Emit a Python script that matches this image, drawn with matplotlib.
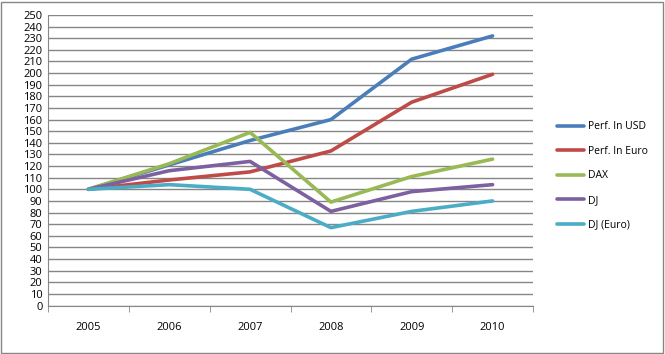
import matplotlib
matplotlib.use('Agg')
import matplotlib.pyplot as plt
import numpy as np
from matplotlib.patches import Rectangle

# data
years = ['2005', '2006', '2007', '2008', '2009', '2010']
perf_usd = [100, 121, 142, 160, 212, 232]
perf_euro = [100, 108, 115, 133, 175, 199]
dax = [100, 122, 149, 89, 111, 126]
dj = [100, 116, 124, 81, 98, 104]
dj_euro = [100, 104, 100, 67, 81, 90]

series = [
    ('Perf. In USD', perf_usd, '#4A7EBB'),
    ('Perf. In Euro', perf_euro, '#BE4B48'),
    ('DAX', dax, '#98B954'),
    ('DJ', dj, '#7D60A0'),
    ('DJ (Euro)', dj_euro, '#4BACC6'),
]

plt.rcParams['font.family'] = ['Open Sans', 'DejaVu Sans']

fig = plt.figure(figsize=(6.65, 3.54), dpi=100)
ax = fig.add_axes([48 / 665, 1 - 305.5 / 354, (533 - 48) / 665, (305.5 - 15) / 354])

x = np.arange(len(years))
for name, vals, col in series:
    ax.plot(x, vals, color=col, lw=2.6, label=name, solid_capstyle='round')

ax.set_xlim(-0.5, len(years) - 0.5)
ax.set_ylim(0, 250)
ax.set_yticks(np.arange(0, 251, 10))
ax.tick_params(axis='y', length=0, labelsize=8, pad=4)
ax.yaxis.grid(True, color='#868686', lw=1)
ax.set_axisbelow(True)

ax.set_xticks(x)
ax.set_xticklabels(years)
ax.set_xticks(np.arange(-0.5, len(years), 1), minor=True)
ax.tick_params(axis='x', which='major', length=0, labelsize=8, pad=12)
ax.tick_params(axis='x', which='minor', length=4, color='#868686', direction='out')

for s in ['top', 'right']:
    ax.spines[s].set_visible(False)
ax.spines['left'].set_color('#868686')
ax.spines['bottom'].set_color('#868686')

leg = fig.legend(loc='upper left', bbox_to_anchor=(548 / 665, 1 - 112 / 354),
                 frameon=False, fontsize=7.5, handlelength=2.6, handletextpad=0.3,
                 labelspacing=1.3)

fig.patches.append(Rectangle((0.002, 0.004), 0.995, 0.99, transform=fig.transFigure,
                             fill=False, edgecolor='#868686', lw=1))

fig.savefig('out.png', dpi=100)
